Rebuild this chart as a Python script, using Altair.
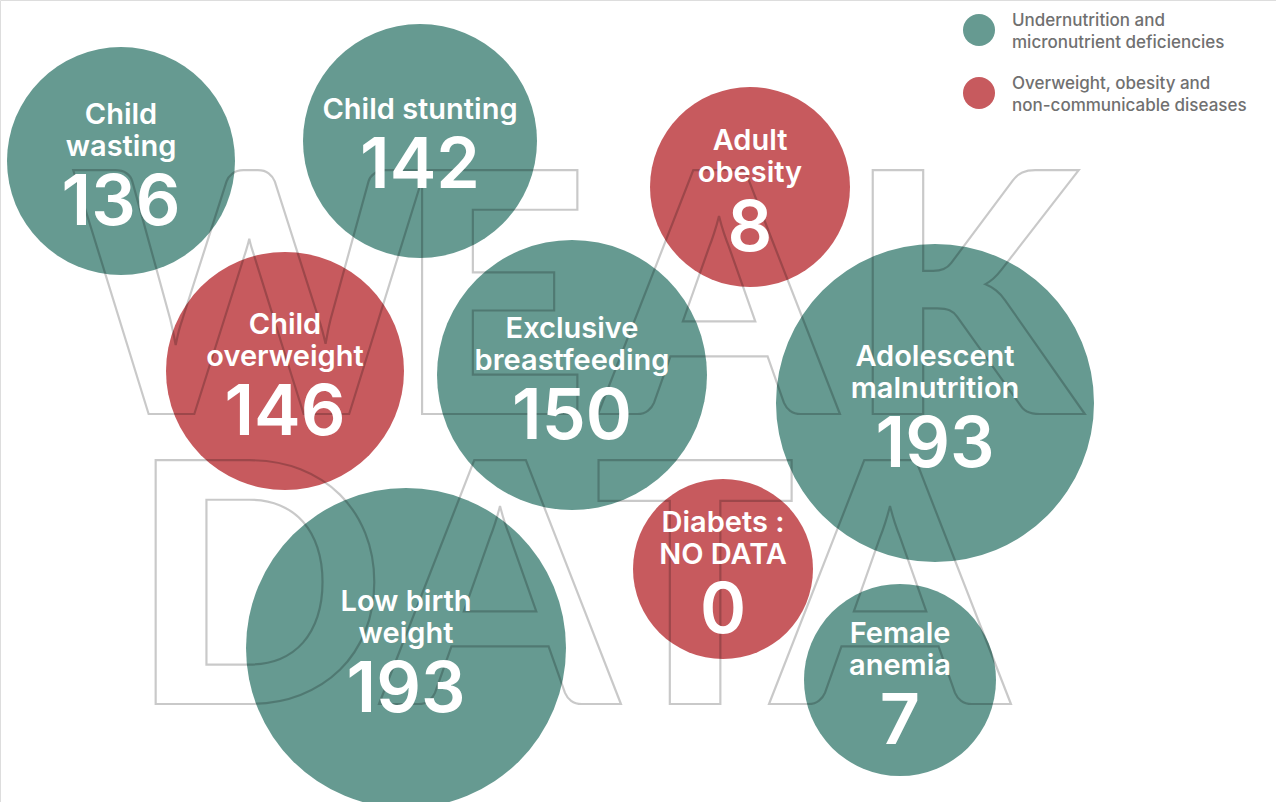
import altair as alt
import pandas as pd

W, H = 1276, 802

UNDER = "Undernutrition and micronutrient deficiencies"
OVER = "Overweight, obesity and non-communicable diseases"

labels = ["Child\nwasting", "Child stunting", "Adult\nobesity", "Child\noverweight",
          "Exclusive\nbreastfeeding", "Adolescent\nmalnutrition", "Low birth\nweight",
          "Diabets :\nNO DATA", "Female\nanemia"]
values = [136, 142, 8, 146, 150, 193, 193, 0, 7]
groups = [UNDER, UNDER, OVER, OVER, UNDER, UNDER, UNDER, OVER, UNDER]
bubble_x = [121, 420, 750, 285, 572, 935, 406, 723, 900]
bubble_y = [161, 141, 187, 371, 375, 403, 648, 569, 680]
bubble_r = [114, 117, 100, 119, 135, 159, 160, 90, 96]

letters = ["W", "E", "A", "K", "D", "A", "T", "A"]
letter_x = [249, 493, 719, 964, 258, 500, 695, 890]
letter_y = [414, 414, 414, 414, 704, 704, 704, 704]

bubbles = pd.DataFrame({"label": labels, "value": values, "group": groups,
                        "x": bubble_x, "y": bubble_y, "r": bubble_r})
outline = pd.DataFrame({"letter": letters, "x": letter_x, "y": letter_y})

xs = alt.Scale(domain=[0, W], nice=False, zero=False)
ys = alt.Scale(domain=[0, H], nice=False, zero=False, reverse=True)

color = alt.Color(
    "group:N",
    scale=alt.Scale(domain=[UNDER, OVER], range=["#669A91", "#C75A5E"]),
    legend=alt.Legend(
        title=None, orient="none", legendX=963, legendY=14,
        symbolType="circle", symbolSize=1024, symbolStrokeWidth=0, symbolOpacity=1,
        labelFont="Inter", labelFontSize=17, labelFontWeight=500, labelColor="#707070",
        labelOffset=17, rowPadding=24, padding=0, labelLimit=400, labelBaseline="bottom",
        labelExpr="datum.label == '" + UNDER + "' ? ['Undernutrition and', 'micronutrient deficiencies'] : ['Overweight, obesity and', 'non-communicable diseases']",
    ),
)

base = alt.Chart(bubbles).transform_calculate(
    area="4 * datum.r * datum.r",
    nl="length(split(datum.label, '\\n'))",
).transform_calculate(
    nb="datum.y + 64 - 17 * (2 - datum.nl)",
).transform_calculate(
    lb="datum.nb - 69 - 32 * (datum.nl - 1)",
)

circles = base.mark_circle(opacity=1).encode(
    x=alt.X("x:Q", scale=xs, axis=None),
    y=alt.Y("y:Q", scale=ys, axis=None),
    size=alt.Size("area:Q", scale=None, legend=None),
    color=color,
)

letters_layer = alt.Chart(outline).mark_text(
    font="Lato", fontSize=336, fontWeight=900, align="center", baseline="alphabetic",
    fillOpacity=0, stroke="black", strokeOpacity=0.21, strokeWidth=2.2,
).encode(
    x=alt.X("x:Q", scale=xs, axis=None),
    y=alt.Y("y:Q", scale=ys, axis=None),
    text="letter:N",
)

label_layer = base.mark_text(
    font="Inter", fontSize=29, fontWeight=600, color="white", align="center",
    baseline="alphabetic", lineBreak="\n", lineHeight=32,
).encode(
    x=alt.X("x:Q", scale=xs, axis=None),
    y=alt.Y("lb:Q", scale=ys, axis=None),
    text="label:N",
)

number_layer = base.mark_text(
    font="Inter", fontSize=70,
    fontWeight=600, color="white", align="center", baseline="alphabetic",
).encode(
    x=alt.X("x:Q", scale=xs, axis=None),
    y=alt.Y("nb:Q", scale=ys, axis=None),
    text="value:Q",
)

chart = alt.layer(circles, letters_layer, label_layer, number_layer).properties(
    width=W, height=H, padding=0, autosize="none", background="white",
).configure_view(stroke=None).configure(style={"guide-label": {"lineHeight": 22}})

chart.save("out.html", embed_options={"renderer": "svg", "actions": False})
